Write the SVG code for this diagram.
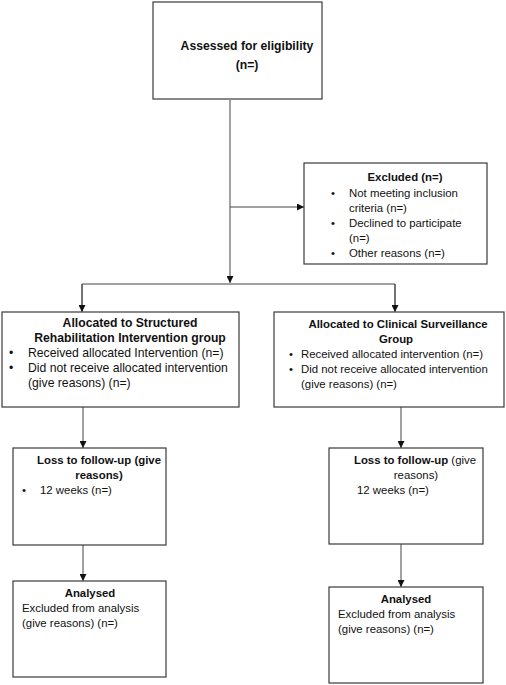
<svg xmlns="http://www.w3.org/2000/svg" width="506" height="685" viewBox="0 0 506 685">
<style>
.box{fill:#fff;stroke:#3a3a3a;stroke-width:1.2}
.ln{fill:none;stroke:#444;stroke-width:1}
.t{font-family:"Liberation Sans",Arial,sans-serif;font-size:11.4px;fill:#111}
.a{font-family:"Liberation Sans",Arial,sans-serif;font-size:12.2px;fill:#111}
.b{font-weight:bold}
.m{text-anchor:middle}
</style>
<defs>
<marker id="ah" viewBox="0 0 10 10" refX="10" refY="5" markerWidth="7" markerHeight="7" markerUnits="userSpaceOnUse" orient="auto">
<path d="M0,0 L10,5 L0,10 z" fill="#111"/>
</marker>
</defs>
<rect width="506" height="685" fill="#fff"/>
<g id="connectors">
<line class="ln" x1="230" y1="100" x2="230" y2="283" marker-end="url(#ah)"/>
<line class="ln" x1="230" y1="207" x2="304" y2="207" marker-end="url(#ah)"/>
<polyline class="ln" points="82,311 82,284 395,284 395,311"/>
<line class="ln" x1="82" y1="284" x2="82" y2="312" marker-end="url(#ah)"/>
<line class="ln" x1="395" y1="284" x2="395" y2="312" marker-end="url(#ah)"/>
<line class="ln" x1="83" y1="407" x2="83" y2="448" marker-end="url(#ah)"/>
<line class="ln" x1="401" y1="407" x2="401" y2="448" marker-end="url(#ah)"/>
<line class="ln" x1="83" y1="545" x2="83" y2="581" marker-end="url(#ah)"/>
<line class="ln" x1="401" y1="544" x2="401" y2="587" marker-end="url(#ah)"/>
</g>
<g id="assessed">
<rect class="box" x="153" y="2" width="169" height="97"/>
<text class="a b m" x="247" y="50">Assessed for eligibility</text>
<text class="a b m" x="247" y="69">(n=)</text>
</g>
<g id="excluded">
<rect class="box" x="304" y="163" width="183" height="101"/>
<text class="t b m" x="405" y="181">Excluded (n=)</text>
<text class="t" x="331" y="197">•</text>
<text class="t" x="349" y="197">Not meeting inclusion</text>
<text class="t" x="349" y="212">criteria (n=)</text>
<text class="t" x="331" y="227">•</text>
<text class="t" x="349" y="227">Declined to participate</text>
<text class="t" x="349" y="242">(n=)</text>
<text class="t" x="331" y="257">•</text>
<text class="t" x="349" y="257">Other reasons (n=)</text>
</g>
<g id="alloc-left">
<rect class="box" x="2" y="312" width="237" height="95"/>
<text class="a b m" x="130" y="327">Allocated to Structured</text>
<text class="a b m" x="130" y="342">Rehabilitation Intervention group</text>
<text class="a" x="9" y="357">•</text>
<text class="a" x="28" y="357">Received allocated Intervention (n=)</text>
<text class="a" x="9" y="372">•</text>
<text class="a" x="28" y="372">Did not receive allocated intervention</text>
<text class="a" x="28" y="387">(give reasons) (n=)</text>
</g>
<g id="alloc-right">
<rect class="box" x="274" y="312" width="230" height="95"/>
<text class="t b m" x="398" y="328">Allocated to Clinical Surveillance</text>
<text class="t b m" x="396" y="343">Group</text>
<text class="t" x="289" y="358">•</text>
<text class="t" x="301" y="358">Received allocated intervention (n=)</text>
<text class="t" x="289" y="373">•</text>
<text class="t" x="301" y="373">Did not receive allocated intervention</text>
<text class="t" x="301" y="388">(give reasons) (n=)</text>
</g>
<g id="loss-left">
<rect class="box" x="13" y="448" width="153" height="97"/>
<text class="t b m" x="99" y="464">Loss to follow-up (give</text>
<text class="t b m" x="99" y="479">reasons)</text>
<text class="t" x="22" y="494">•</text>
<text class="t" x="40" y="494">12 weeks (n=)</text>
</g>
<g id="loss-right">
<rect class="box" x="329" y="448" width="154" height="96"/>
<text class="t m" x="415" y="464"><tspan class="b">Loss to follow-up</tspan> (give</text>
<text class="t m" x="416" y="479">reasons)</text>
<text class="t" x="357" y="494">12 weeks (n=)</text>
</g>
<g id="analysed-left">
<rect class="box" x="13" y="581" width="153" height="96"/>
<text class="t b m" x="90" y="597">Analysed</text>
<text class="t" x="22" y="612">Excluded from analysis</text>
<text class="t" x="22" y="627">(give reasons) (n=)</text>
</g>
<g id="analysed-right">
<rect class="box" x="329" y="587" width="154" height="96"/>
<text class="t b m" x="406" y="603">Analysed</text>
<text class="t" x="338" y="618">Excluded from analysis</text>
<text class="t" x="338" y="633">(give reasons) (n=)</text>
</g>
</svg>
